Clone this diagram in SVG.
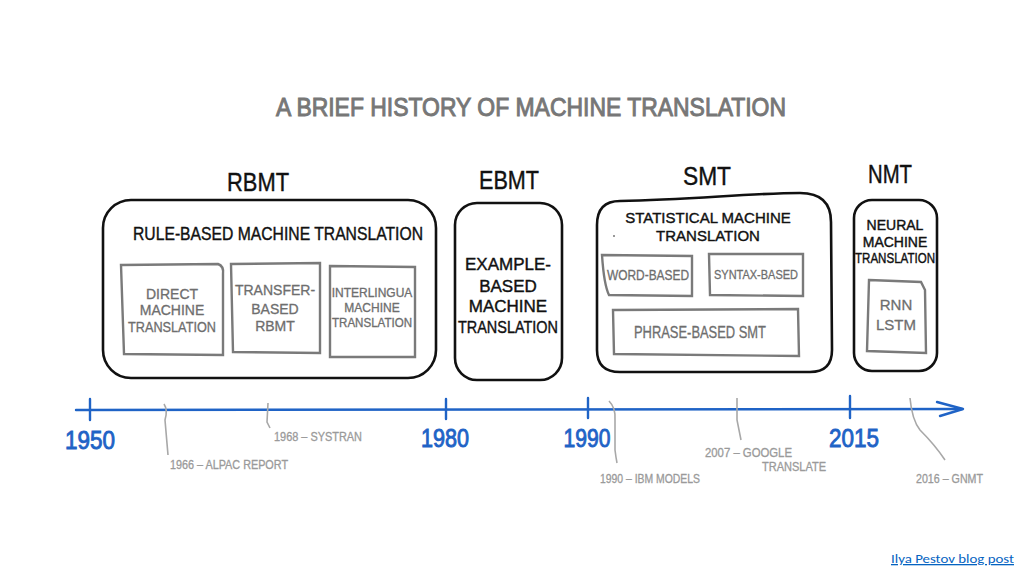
<svg xmlns="http://www.w3.org/2000/svg" width="1024" height="576" viewBox="0 0 1024 576">
<style>
.t{font-family:"Liberation Sans",Arial,sans-serif;fill:#111;stroke:#111;stroke-width:0.4;text-anchor:middle}
.g{font-family:"Liberation Sans",Arial,sans-serif;fill:#6e6e6e;stroke:#6e6e6e;stroke-width:0.3;text-anchor:middle}
.a{font-family:"Liberation Sans",Arial,sans-serif;fill:#9a9a9a;stroke:#9a9a9a;stroke-width:0.3;font-size:12px}
.y{font-family:"Liberation Sans",Arial,sans-serif;fill:#1f63c6;stroke:#1f63c6;stroke-width:0.9;font-size:25px;text-anchor:middle}
.box{fill:none;stroke:#111;stroke-width:2.6}
.sub{fill:none;stroke:#7a7a7a;stroke-width:2.4}
.lead{fill:none;stroke:#a8a8a8;stroke-width:1.6}
.axis{fill:none;stroke:#1f63c6;stroke-width:2.4;stroke-linecap:round;stroke-linejoin:round}
</style>
<rect width="1024" height="576" fill="#fff"/>
<text x="531" y="116" font-family="Liberation Sans,Arial,sans-serif" font-size="26" fill="#777" stroke="#777" stroke-width="1" text-anchor="middle" textLength="510" lengthAdjust="spacingAndGlyphs">A BRIEF HISTORY OF MACHINE TRANSLATION</text>

<g id="rbmt">
<text class="t" x="258" y="191" font-size="25" textLength="62" lengthAdjust="spacingAndGlyphs">RBMT</text>
<rect class="box" x="103" y="200" width="333" height="178" rx="28"/>
<text class="t" x="278" y="240" font-size="18" textLength="290" lengthAdjust="spacingAndGlyphs">RULE-BASED MACHINE TRANSLATION</text>
<path class="sub" d="M121,265 L218,264 Q224,266 223,274 L223,355 L124,354 Z"/>
<text class="g" font-size="14"><tspan x="172" y="299">DIRECT</tspan><tspan x="172" y="315">MACHINE</tspan><tspan x="172" y="332" textLength="88" lengthAdjust="spacingAndGlyphs">TRANSLATION</tspan></text>
<path class="sub" d="M231,264 L320,263 L320,353 L233,352 Z"/>
<text class="g" font-size="14"><tspan x="275" y="295">TRANSFER-</tspan><tspan x="275" y="314">BASED</tspan><tspan x="275" y="331">RBMT</tspan></text>
<path class="sub" d="M330,266 L415,267 L415,357 L330,357 Z"/>
<text class="g" font-size="12"><tspan x="372" y="297">INTERLINGUA</tspan><tspan x="372" y="312">MACHINE</tspan><tspan x="372" y="327" textLength="80" lengthAdjust="spacingAndGlyphs">TRANSLATION</tspan></text>
</g>

<g id="ebmt">
<text class="t" x="509" y="189" font-size="25" textLength="60" lengthAdjust="spacingAndGlyphs">EBMT</text>
<rect class="box" x="455" y="203" width="107" height="177" rx="22"/>
<text class="t" font-size="17"><tspan x="508" y="270">EXAMPLE-</tspan><tspan x="508" y="292">BASED</tspan><tspan x="508" y="312">MACHINE</tspan><tspan x="508" y="333" textLength="100" lengthAdjust="spacingAndGlyphs">TRANSLATION</tspan></text>
</g>

<g id="smt">
<text class="t" x="707" y="185" font-size="25" textLength="48" lengthAdjust="spacingAndGlyphs">SMT</text>
<path class="box" d="M620,201 C690,200 750,193 800,193 Q831,193 831,222 L832,350 Q832,372 810,372 L620,372 Q597,372 597,350 L597,225 Q597,201 620,201 Z"/>
<circle cx="614" cy="236" r="1" fill="#777"/>
<text class="t" font-size="15"><tspan x="708" y="223">STATISTICAL MACHINE</tspan><tspan x="708" y="241">TRANSLATION</tspan></text>
<path class="sub" d="M602,255 L692,256 L692,296 L609,295 Q604,285 602,255 Z"/>
<text class="g" x="648" y="280" font-size="14" textLength="82" lengthAdjust="spacingAndGlyphs">WORD-BASED</text>
<path class="sub" d="M709,254 L803,254 L803,296 L710,295 Z"/>
<text class="g" x="756" y="279" font-size="13" textLength="84" lengthAdjust="spacingAndGlyphs">SYNTAX-BASED</text>
<path class="sub" d="M613,310 L798,309 L799,356 L614,354 Z"/>
<text class="g" x="700" y="338" font-size="16" textLength="132" lengthAdjust="spacingAndGlyphs">PHRASE-BASED SMT</text>
</g>

<g id="nmt">
<text class="t" x="890" y="183" font-size="25" textLength="44" lengthAdjust="spacingAndGlyphs">NMT</text>
<rect class="box" x="854" y="200" width="83" height="171" rx="18"/>
<text class="t" font-size="14"><tspan x="895" y="230">NEURAL</tspan><tspan x="895" y="247">MACHINE</tspan><tspan x="895" y="263" textLength="80" lengthAdjust="spacingAndGlyphs">TRANSLATION</tspan></text>
<path class="sub" d="M869,280 L921,282 L925,290 L926,353 L867,351 Z"/>
<text class="g" font-size="15"><tspan x="896" y="310">RNN</tspan><tspan x="896" y="330">LSTM</tspan></text>
</g>

<g id="connectors">
<path class="axis" d="M76,410 L962,409"/>
<path class="axis" d="M937,402 L963,409 L940,416"/>
<path class="axis" d="M90,399 L90,420 M446,399 L446,419 M588,398 L588,418 M850,396 L850,418"/>
<path class="lead" d="M164,404 Q168,410 165,420 L168,455"/>
<path class="lead" d="M268,403 L267,422 L270,428"/>
<path class="lead" d="M609,401 Q616,408 615,420 L615,450 Q616,458 617,463"/>
<path class="lead" d="M737,398 L737,420 L741,440"/>
<path class="lead" d="M910,398 Q912,420 920,430 Q935,445 945,460"/>
</g>

<g id="years">
<text class="y" x="90" y="449" textLength="50" lengthAdjust="spacingAndGlyphs">1950</text>
<text class="y" x="445" y="447" textLength="48" lengthAdjust="spacingAndGlyphs">1980</text>
<text class="y" x="587" y="447" textLength="47" lengthAdjust="spacingAndGlyphs">1990</text>
<text class="y" x="854" y="447" textLength="50" lengthAdjust="spacingAndGlyphs">2015</text>
</g>

<g id="events">
<text class="a" x="170" y="469" textLength="118" lengthAdjust="spacingAndGlyphs">1966 – ALPAC REPORT</text>
<text class="a" x="274" y="441" textLength="88" lengthAdjust="spacingAndGlyphs">1968 – SYSTRAN</text>
<text class="a" x="600" y="483" textLength="100" lengthAdjust="spacingAndGlyphs">1990 – IBM MODELS</text>
<text class="a" x="705" y="457" textLength="87" lengthAdjust="spacingAndGlyphs">2007 – GOOGLE</text>
<text class="a" x="762" y="471" textLength="64" lengthAdjust="spacingAndGlyphs">TRANSLATE</text>
<text class="a" x="916" y="483" textLength="67" lengthAdjust="spacingAndGlyphs">2016 – GNMT</text>
</g>

<text x="891" y="563" font-family="Carlito,'Liberation Sans',sans-serif" font-size="13" fill="#0563c1" text-decoration="underline" textLength="123" lengthAdjust="spacingAndGlyphs">Ilya Pestov blog post</text>
</svg>
